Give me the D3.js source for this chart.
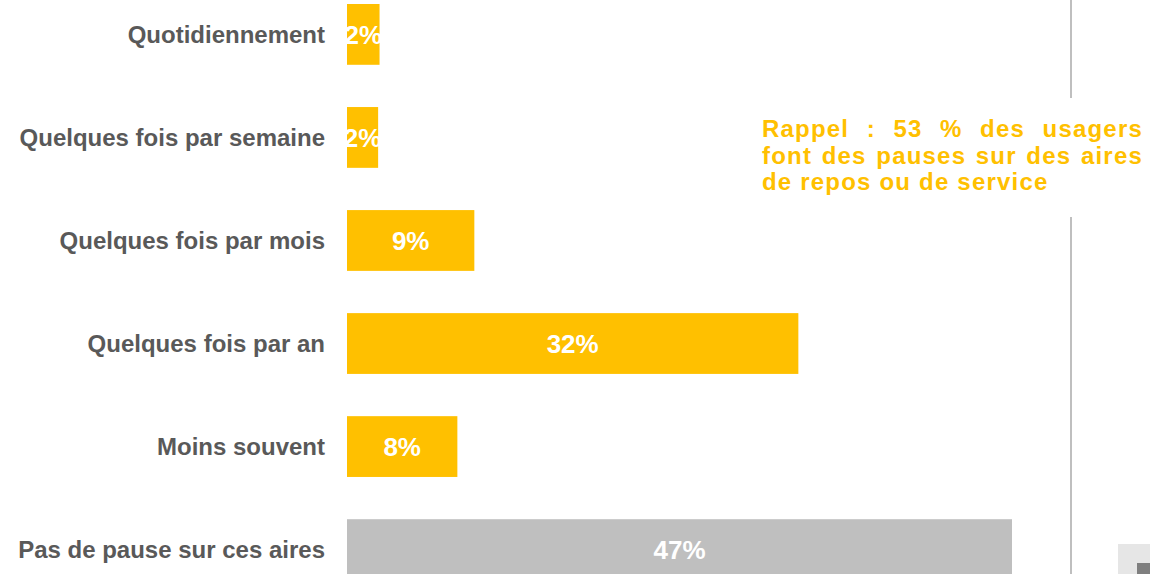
<!DOCTYPE html>
<html>
<head>
<meta charset="utf-8">
<script src="https://cdn.jsdelivr.net/npm/d3@7"></script>
<style>
  body { margin: 0; background: #fff; }
  svg { display: block; font-family: "Liberation Sans", Arial, sans-serif; }
</style>
</head>
<body>
<div id="chart"></div>
<script>
// Données
const categories = [
  "Quotidiennement",
  "Quelques fois par semaine",
  "Quelques fois par mois",
  "Quelques fois par an",
  "Moins souvent",
  "Pas de pause sur ces aires"
];
const values = [2.3, 2.2, 9.0, 31.9, 7.8, 47.0];
const noteLines = [
  "Rappel : 53 % des usagers",
  "font des pauses sur des aires",
  "de repos ou de service"
];

const width = 1150;
const height = 574;

const svg = d3.select("#chart").append("svg")
  .attr("width", width)
  .attr("height", height)
  .attr("viewBox", [0, 0, width, height]);

const data = categories.map((c, i) => ({ cat: c, value: values[i], last: i === categories.length - 1 }));

// Échelles
const x = d3.scaleLinear()
  .domain([0, 47])
  .range([347, 1012]);

const y = d3.scaleBand()
  .domain(categories)
  .range([4, 580])
  .paddingInner(0.41)
  .paddingOuter(0);

// Barres
svg.append("g")
  .selectAll("rect")
  .data(data)
  .join("rect")
  .attr("x", x(0))
  .attr("y", d => y(d.cat))
  .attr("width", d => x(d.value) - x(0))
  .attr("height", y.bandwidth())
  .attr("fill", d => d.last ? "#bfbfbf" : "#ffc000");

// Étiquettes de valeur
svg.append("g")
  .selectAll("text")
  .data(data)
  .join("text")
  .attr("x", d => (x(0) + x(d.value)) / 2)
  .attr("y", d => y(d.cat) + y.bandwidth() / 2)
  .attr("dy", "0.36em")
  .attr("text-anchor", "middle")
  .attr("fill", "#fff")
  .attr("font-weight", "bold")
  .attr("font-size", 26)
  .text(d => d3.format(".0f")(d.value) + "%");

// Axe des catégories
svg.append("g")
  .attr("transform", `translate(${x(0) - 22},0)`)
  .call(d3.axisLeft(y).tickSize(0).tickPadding(0))
  .call(g => g.select(".domain").remove())
  .call(g => g.selectAll("text")
    .attr("font-family", "'Liberation Sans', Arial, sans-serif")
    .attr("font-size", 24)
    .attr("font-weight", "bold")
    .attr("fill", "#595959")
    .attr("dy", "0.36em"));

// Ligne verticale de séparation
svg.append("line")
  .attr("x1", 1071).attr("x2", 1071)
  .attr("y1", 0).attr("y2", 98)
  .attr("stroke", "#bfbfbf").attr("stroke-width", 2);
svg.append("line")
  .attr("x1", 1071).attr("x2", 1071)
  .attr("y1", 217).attr("y2", height)
  .attr("stroke", "#bfbfbf").attr("stroke-width", 2);

// Note justifiée
const noteLeft = 762, noteRight = 1143, noteTop = 137, lineH = 26.5;
const note = svg.append("g")
  .attr("fill", "#ffc000")
  .attr("font-weight", "bold")
  .attr("font-size", 24)
  .attr("letter-spacing", 1.2);

noteLines.forEach((line, i) => {
  const words = line.split(" ");
  const yy = noteTop + i * lineH;
  if (i === noteLines.length - 1) {
    note.append("text").attr("x", noteLeft).attr("y", yy).text(line);
    return;
  }
  const nodes = words.map(w => note.append("text").attr("y", yy).text(w));
  const widths = nodes.map(n => n.node().getComputedTextLength());
  const gap = (noteRight - noteLeft - d3.sum(widths)) / (words.length - 1);
  let cx = noteLeft;
  nodes.forEach((n, j) => {
    n.attr("x", cx);
    cx += widths[j] + gap;
  });
});

// Petits carrés en bas à droite
svg.append("rect")
  .attr("x", 1118).attr("y", 544)
  .attr("width", 40).attr("height", 40)
  .attr("fill", "#e6e6e6");
svg.append("rect")
  .attr("x", 1137).attr("y", 563)
  .attr("width", 20).attr("height", 20)
  .attr("fill", "#7f7f7f");
</script>
</body>
</html>
